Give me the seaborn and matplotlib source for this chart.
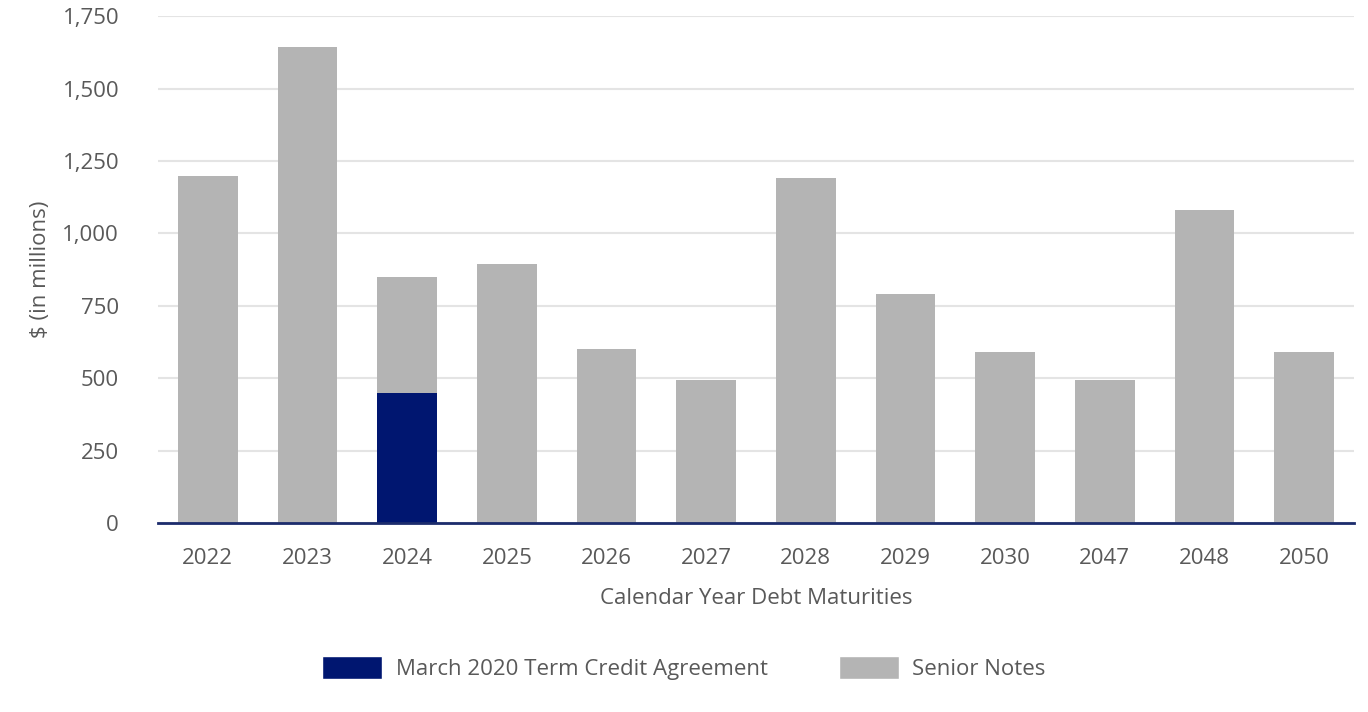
import matplotlib
matplotlib.use("Agg")
import matplotlib.pyplot as plt
import seaborn as sns
import pandas as pd
from matplotlib.patches import Patch

years = ["2022", "2023", "2024", "2025", "2026", "2027", "2028", "2029", "2030", "2047", "2048", "2050"]
term_credit = [0, 0, 450, 0, 0, 0, 0, 0, 0, 0, 0, 0]
senior_notes = [1200, 1645, 400, 895, 600, 495, 1190, 790, 590, 495, 1080, 590]
y_ticks = [0, 250, 500, 750, 1000, 1250, 1500, 1750]

navy = "#001670"
grey = "#b4b4b4"
text_grey = "#595959"
fs = 16

sns.set_style("white")
plt.rcParams["font.family"] = ["Open Sans", "DejaVu Sans"]

df = pd.DataFrame({"year": years, "term": term_credit, "senior": senior_notes})
df["total"] = df["term"] + df["senior"]

fig = plt.figure(figsize=(13.68, 7.12), dpi=100)
ax = fig.add_axes([0.1155, 0.2654, 0.8743, 0.7117])

# stacked: total in grey, term credit portion on top in navy
sns.barplot(data=df, x="year", y="total", color=grey, width=0.6, saturation=1,
            linewidth=0, ax=ax)
sns.barplot(data=df, x="year", y="term", color=navy, width=0.6, saturation=1,
            linewidth=0, ax=ax)

ax.set_ylim(0, 1750)
ax.set_xlim(-0.5, len(years) - 0.5)
ax.set_yticks(y_ticks)
ax.set_yticklabels([f"{v:,}" for v in y_ticks])
ax.yaxis.grid(True, color="#e4e4e4", linewidth=1.5)
ax.set_axisbelow(True)
for s in ["top", "right", "left"]:
    ax.spines[s].set_visible(False)
ax.spines["bottom"].set_color("#1c2c6c")
ax.spines["bottom"].set_linewidth(2)
ax.tick_params(axis="both", length=0, labelsize=fs, colors=text_grey)
ax.tick_params(axis="x", pad=18)
ax.tick_params(axis="y", pad=28)

ax.set_xlabel("Calendar Year Debt Maturities", fontsize=fs, color=text_grey, labelpad=14)
ax.set_ylabel("$ (in millions)", fontsize=fs, color=text_grey, labelpad=8)

handles = [Patch(facecolor=navy, label="March 2020 Term Credit Agreement"),
           Patch(facecolor=grey, label="Senior Notes")]
fig.legend(handles=handles, loc="center", bbox_to_anchor=(0.500, 0.062), ncol=2,
           frameon=False, fontsize=fs, labelcolor=text_grey,
           handlelength=2.7, handleheight=1.2, handletextpad=0.6, columnspacing=3.2)

fig.savefig("out.png", dpi=100)
